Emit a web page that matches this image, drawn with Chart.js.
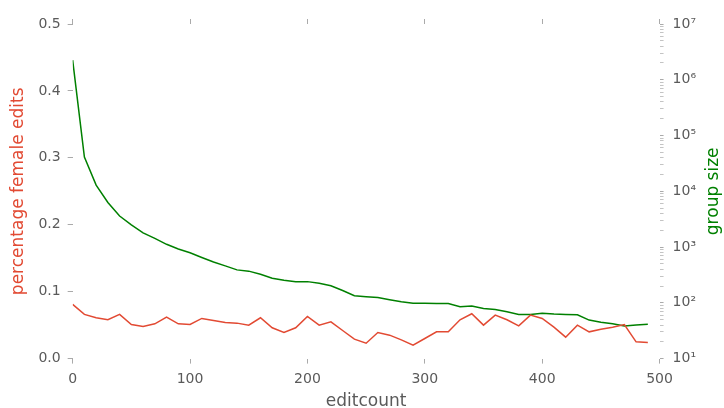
<!DOCTYPE html>
<html>
<head>
<meta charset="utf-8">
<script src="https://cdn.jsdelivr.net/npm/chart.js@4"></script>
<style>
  html, body { margin: 0; padding: 0; background: #ffffff; }
  #wrap { width: 724px; height: 408px; }
</style>
</head>
<body>
<div id="wrap"><canvas id="c" width="724" height="408"></canvas></div>
<script>
// ---- data ----
const editcount = [0,10,20,30,40,50,60,70,80,90,100,110,120,130,140,150,160,170,180,190,200,210,220,230,240,250,260,270,280,290,300,310,320,330,340,350,360,370,380,390,400,410,420,430,440,450,460,470,480,490];
const femaleShare = [0.081,0.066,0.061,0.058,0.066,0.051,0.048,0.052,0.062,0.052,0.051,0.060,0.057,0.054,0.053,0.050,0.061,0.046,0.039,0.046,0.063,0.050,0.055,0.042,0.029,0.023,0.039,0.035,0.028,0.020,0.030,0.040,0.040,0.058,0.067,0.050,0.065,0.058,0.049,0.065,0.060,0.047,0.032,0.050,0.040,0.044,0.047,0.051,0.025,0.024];
const groupSize = [2250000,41000,12900,6300,3600,2500,1800,1430,1120,925,790,650,540,460,390,370,325,275,253,240,240,225,203,166,134,129,125,114,105,98,98,97,97,85,88,79,76,69,62,62,65,63,62,61,49,45,42,38.5,40,41.5];
const xTicks = [0,100,200,300,400,500];
const leftTicks = [0.0,0.1,0.2,0.3,0.4,0.5];
const rightExponents = [1,2,3,4,5,6,7];
const supDigits = {'0':'⁰','1':'¹','2':'²','3':'³','4':'⁴','5':'⁵','6':'⁶','7':'⁷','8':'⁸','9':'⁹'};

const RED = '#E24A33';
const GREEN = '#008000';
const TICKCOL = '#5a5a5a';
const FONT = 'DejaVu Sans';

const redPts = editcount.map((x, i) => ({x: x, y: femaleShare[i]}));
const greenPts = editcount.map((x, i) => ({x: x, y: groupSize[i]}));

const rightTickValues = [];
rightExponents.forEach((e, idx) => {
  const base = Math.pow(10, e);
  rightTickValues.push(base);
  if (idx < rightExponents.length - 1) {
    for (let m = 2; m <= 9; m++) rightTickValues.push(m * base);
  }
});

const rightTitlePlugin = {
  id: 'rightTitle',
  afterDraw(chart) {
    const ctx = chart.ctx;
    const a = chart.chartArea;
    ctx.save();
    ctx.fillStyle = GREEN;
    ctx.font = '17px "' + FONT + '"';
    ctx.textAlign = 'center';
    ctx.textBaseline = 'middle';
    ctx.translate(714, (a.top + a.bottom) / 2);
    ctx.rotate(-Math.PI / 2);
    ctx.fillText('group size', 0, 0);
    ctx.restore();
  }
};

new Chart(document.getElementById('c'), {
  type: 'line',
  data: {
    datasets: [
      { label: 'percentage female edits', data: redPts, yAxisID: 'y', xAxisID: 'x',
        borderColor: RED, borderWidth: 1.5, pointRadius: 0, tension: 0, fill: false },
      { label: 'group size', data: greenPts, yAxisID: 'y2', xAxisID: 'x',
        borderColor: GREEN, borderWidth: 1.5, pointRadius: 0, tension: 0, fill: false }
    ]
  },
  options: {
    responsive: false,
    animation: false,
    layout: { padding: { left: 8, right: 19, top: 19, bottom: 0 } },
    plugins: { legend: { display: false }, tooltip: { enabled: false } },
    scales: {
      x: {
        type: 'linear', position: 'bottom', min: 0, max: 500,
        afterBuildTicks: s => { s.ticks = xTicks.map(v => ({value: v})); },
        ticks: { color: TICKCOL, font: { family: FONT, size: 14 }, padding: 7, maxRotation: 0 },
        grid: { drawOnChartArea: false, drawTicks: true, tickLength: 5, tickColor: '#aaaaaa' },
        border: { display: false },
        title: { display: true, text: 'editcount', color: TICKCOL,
                 font: { family: FONT, size: 17, lineHeight: 0.8 }, padding: { top: 0, bottom: 0 } }
      },
      x2: {
        type: 'linear', position: 'top', min: 0, max: 500,
        afterBuildTicks: s => { s.ticks = xTicks.map(v => ({value: v})); },
        ticks: { display: false },
        grid: { drawOnChartArea: false, drawTicks: true, tickLength: 5, tickColor: '#aaaaaa' },
        border: { display: false }
      },
      y: {
        type: 'linear', position: 'left', min: 0, max: 0.5,
        afterBuildTicks: s => { s.ticks = leftTicks.map(v => ({value: v})); },
        ticks: { color: TICKCOL, font: { family: FONT, size: 14 }, padding: 7,
                 callback: v => Number(v).toFixed(1) },
        grid: { drawOnChartArea: false, drawTicks: true, tickLength: 5, tickColor: '#aaaaaa' },
        border: { display: false },
        title: { display: true, text: 'percentage female edits', color: RED,
                 font: { family: FONT, size: 17, lineHeight: 1.2 }, padding: { top: 0, bottom: 3 } }
      },
      y2: {
        type: 'logarithmic', position: 'right', min: 10, max: 1e7,
        afterBuildTicks: s => { s.ticks = rightTickValues.map(v => ({value: v, major: rightTickValues.indexOf(v) % 9 === 0})); },
        ticks: { color: TICKCOL, font: { family: FONT, size: 14 }, padding: 9, autoSkip: false,
                 callback: v => {
                   const e = Math.log10(v);
                   if (Math.abs(e - Math.round(e)) < 1e-9) {
                     return '10' + String(Math.round(e)).split('').map(d => supDigits[d]).join('');
                   }
                   return '';
                 } },
        grid: { drawOnChartArea: false, drawTicks: true, tickLength: 4,
                tickColor: ctx => {
                  const v = ctx.tick ? ctx.tick.value : 0;
                  const e = Math.log10(v);
                  return Math.abs(e - Math.round(e)) < 1e-9 ? '#aaaaaa' : '#c4c4c4';
                } },
        border: { display: false }
      }
    }
  },
  plugins: [rightTitlePlugin]
});
</script>
</body>
</html>
